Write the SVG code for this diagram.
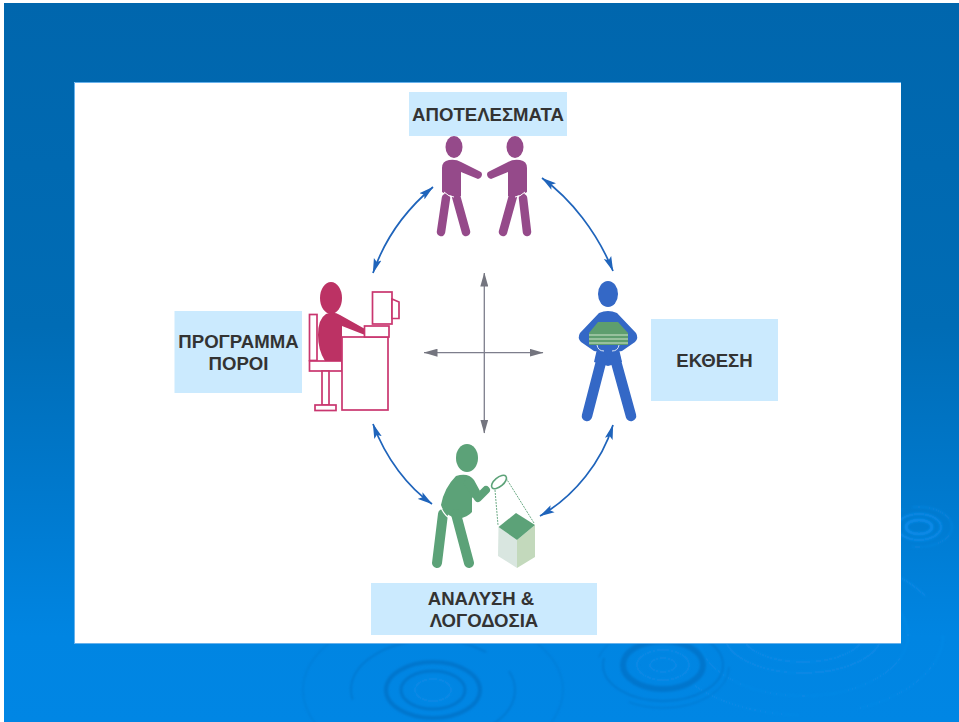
<svg xmlns="http://www.w3.org/2000/svg" width="959" height="722" viewBox="0 0 959 722">
<defs>
<linearGradient id="bg" x1="0" y1="0" x2="0" y2="1"><stop offset="0" stop-color="#0066ad"/><stop offset="0.45" stop-color="#006cb5"/><stop offset="0.7" stop-color="#007acf"/><stop offset="0.88" stop-color="#0085e2"/><stop offset="1" stop-color="#0086e4"/></linearGradient>
<filter id="soft" x="-10%" y="-10%" width="120%" height="120%"><feGaussianBlur stdDeviation="0.8"/></filter>
<marker id="ah" viewBox="0 0 15 9" refX="14.500" refY="4.500" markerWidth="15" markerHeight="9" markerUnits="userSpaceOnUse" orient="auto-start-reverse"><path d="M0 0.500L15 4.500L0 8.500L3 4.500Z" fill="#1f64bb"/></marker>
<marker id="gh" viewBox="0 0 14 8" refX="13.500" refY="4" markerWidth="14" markerHeight="8" markerUnits="userSpaceOnUse" orient="auto-start-reverse"><path d="M0 0L14 4L0 8Z" fill="#74757f"/></marker>
<style>
.lbl{fill:#cbeafe}
.t{font:bold 18.600px "Liberation Sans",Arial,sans-serif;fill:#333;text-anchor:middle}
.arc{fill:none;stroke:#1f64bb;stroke-width:1.700;marker-start:url(#ah);marker-end:url(#ah)}
.ax{fill:none;stroke:#7d7e8c;stroke-width:1.300;marker-start:url(#gh);marker-end:url(#gh)}
.dk{fill:none;stroke:#0076cd}
.lt{fill:none;stroke:#0a89e6}
.pl{fill:none;stroke:#954a8a;stroke-linecap:round;stroke-linejoin:round}
.rl{fill:#fff;stroke:#c9366f;stroke-width:1.700}
.bl{fill:none;stroke:#3468c6;stroke-linecap:round;stroke-linejoin:round}
.gl{fill:none;stroke:#5ca278;stroke-linecap:round;stroke-linejoin:round}
</style>
</defs>
<rect width="959" height="722" fill="#fff"/>
<rect x="4" y="3" width="955" height="719" fill="url(#bg)"/>
<g id="ripples" filter="url(#soft)">
<ellipse class="lt" cx="803" cy="635" rx="105" ry="61" stroke-width="1.500"/>
<ellipse class="lt" cx="803" cy="635" rx="78" ry="38" stroke-width="2"/>
<ellipse class="lt" cx="803" cy="635" rx="60" ry="27" stroke-width="2"/>
<ellipse class="lt" cx="803" cy="635" rx="140" ry="80" stroke-width="1.500" stroke-dasharray="120 60"/>
<ellipse class="dk" cx="433" cy="690" rx="47" ry="28" stroke-width="4"/>
<ellipse class="dk" cx="433" cy="690" rx="32" ry="19" stroke-width="3"/>
<ellipse class="lt" cx="433" cy="690" rx="18" ry="11" stroke-width="2"/>
<ellipse class="dk" cx="433" cy="690" rx="82" ry="50" stroke-width="1.500" stroke-dasharray="170 30"/>
<ellipse class="dk" cx="433" cy="690" rx="130" ry="78" stroke-width="1.200" stroke-dasharray="180 90" opacity=".6"/>
<ellipse class="dk" cx="663" cy="665" rx="40" ry="24" stroke-width="6"/>
<ellipse class="lt" cx="663" cy="665" rx="26" ry="15" stroke-width="2"/>
<ellipse class="lt" cx="663" cy="665" rx="13" ry="7" stroke-width="2"/>
<ellipse class="dk" cx="663" cy="665" rx="60" ry="36" stroke-width="1.500" stroke-dasharray="160 20"/>
<ellipse class="dk" cx="663" cy="667" rx="66" ry="41" stroke-width="1" stroke-dasharray="120 60"/>
<ellipse cx="919" cy="527" rx="13" ry="7" fill="none" stroke="#0c8ceb" stroke-width="3"/>
<ellipse cx="919" cy="527" rx="22" ry="13" fill="none" stroke="#0c8ceb" stroke-width="2"/>
<ellipse cx="919" cy="527" rx="33" ry="20" fill="none" stroke="#0a84de" stroke-width="1.500" stroke-dasharray="50 10"/>
</g>
<rect id="panel" x="74" y="82" width="827" height="562" fill="#fff"/>
<path id="panel-edge" d="M74.500 644V82.500H901M74 643.500H901" fill="none" stroke="#68b2ec" stroke-width="1"/>
<g id="connectors">
<path class="arc" d="M373 273C386 235 408 208 433 187"/>
<path class="arc" d="M542 178C571 199 597 232 613 271"/>
<path class="arc" d="M373 424C386 459 408 487 432 504"/>
<path class="arc" d="M613 425C602 461 575 496 540 516"/>
<path class="ax" d="M484.300 273V433"/>
<path class="ax" d="M424 352.700H543"/>
</g>
<g id="node-results">
<ellipse cx="454" cy="147" rx="8.500" ry="11" fill="#954a8a"/>
<ellipse cx="515" cy="147" rx="8.500" ry="11" fill="#954a8a"/>
<path d="M449 160Q442 161 442 168V192Q449 197 461 196V172L478 179Q482 178 482 174Q482 172 479 171L461 162Q456 159 449 160Z" fill="#954a8a"/>
<path d="M520 160Q527 161 527 168V192Q520 197 508 196V172L491 179Q487 178 487 174Q487 172 490 171L508 162Q513 159 520 160Z" fill="#954a8a"/>
<path class="pl" stroke-width="8.500" d="M446 198L441 232M456 196L466 232M523 198L527 232M513 196L503 232"/>
<path d="M444 192Q449 197 454 197M525 192Q520 197 515 197" fill="none" stroke="#fff" stroke-width="1"/>
<rect class="lbl" x="409" y="92" width="158" height="44"/>
<text class="t" x="488" y="121">ΑΠΟΤΕΛΕΣΜΑΤΑ</text>
</g>
<g id="node-program">
<rect class="lbl" x="174.500" y="311" width="127.500" height="82"/>
<text class="t" x="238.500" y="348">ΠΡΟΓΡΑΜΜΑ</text>
<text class="t" x="238.500" y="370">ΠΟΡΟΙ</text>
<ellipse cx="331" cy="298" rx="11" ry="16" fill="#bc3264"/>
<rect class="rl" x="309.500" y="314.500" width="7.500" height="46"/>
<rect class="rl" x="309.500" y="361" width="32.500" height="10"/>
<rect class="rl" x="322" y="371" width="7" height="34"/>
<rect class="rl" x="315" y="405" width="21" height="5.500"/>
<path d="M326 314Q334 311 340 315L365 329V335L342 326V361H325Q318 350 318 335Q318 319 326 314Z" fill="#bc3264"/>
<rect class="rl" x="342" y="337" width="46" height="73"/>
<rect class="rl" x="364.500" y="326" width="24.500" height="11"/>
<rect class="rl" x="372.500" y="292" width="19.500" height="32"/>
<path class="rl" d="M392 299L399 302V318.500H392Z"/>
</g>
<g id="node-report">
<rect class="lbl" x="651" y="319" width="127" height="82"/>
<text class="t" x="714.500" y="367">ΕΚΘΕΣΗ</text>
<ellipse cx="608" cy="294" rx="10" ry="13" fill="#3468c6"/>
<path d="M599 313Q608 309 617 313L636 333Q639 338 635 342L622 351Q617 352 615 349H601Q599 352 594 351L581 342Q577 338 580 333Z" fill="#3468c6"/>
<path d="M597 349H619L622 362L608 366L594 362Z" fill="#3468c6"/>
<path class="bl" stroke-width="10.500" d="M602 358L587 416M615 358L631 416"/>
<path d="M598 322H618L628 333V345H589V333Z" fill="#5e9e6e"/>
<path d="M589 335H628M589 339H628M589 343H628" stroke="#cfe3cc" stroke-width="1.200"/>
<path d="M597 345Q598 351 604 351M619 345Q618 351 612 351" fill="none" stroke="#dce6f6" stroke-width="1"/>
</g>
<g id="node-analysis">
<rect class="lbl" x="371" y="583" width="226" height="52"/>
<text class="t" x="481" y="605">ΑΝΑΛΥΣΗ &amp;</text>
<text class="t" x="484" y="627">ΛΟΓΟΔΟΣΙΑ</text>
<ellipse cx="467" cy="458" rx="11" ry="14" fill="#5ca278"/>
<path d="M456 476Q468 472 474 480L480 491L472 498V512Q468 517 458 519Q444 515 441 505Q444 488 456 476Z" fill="#5ca278"/>
<path class="gl" stroke-width="8" d="M468 483L478 498L486 490"/>
<path class="gl" stroke-width="10" d="M443 514L437 563M456 514L469 563"/>
<path d="M441 508Q446 518 452 519" fill="none" stroke="#fff" stroke-width="1.200"/>
<path d="M495 490L498 525M506 478L534 523" fill="none" stroke="#5ca278" stroke-width="0.900" stroke-dasharray="2 1"/>
<ellipse cx="499" cy="482" rx="9" ry="4.500" transform="rotate(-40 499 482)" fill="#fff" stroke="#5ca278" stroke-width="1.600"/>
<path d="M498.500 527L517 540V568L498 556Z" fill="#d9e6e0"/>
<path d="M517 540L535 525V557L517 568Z" fill="#c3d9bc"/>
<path d="M516 513L535 525L517 540L498.500 527Z" fill="#5ca278"/>
</g>
</svg>
